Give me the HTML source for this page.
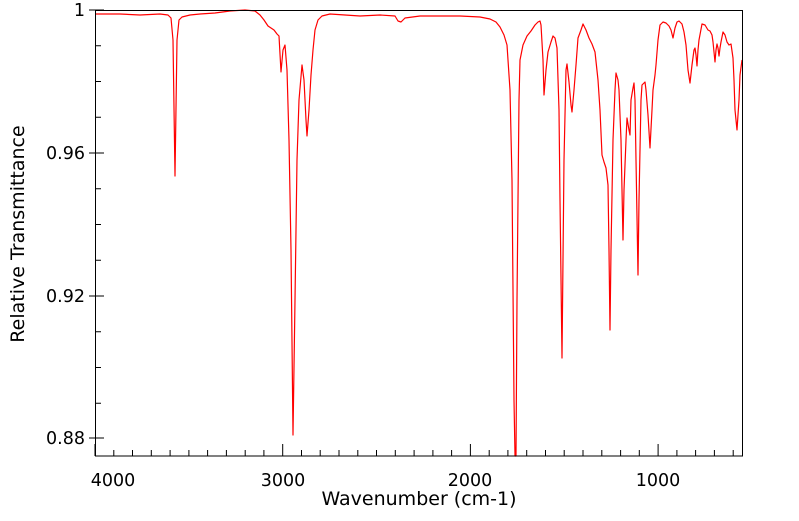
<!DOCTYPE html>
<html><head><meta charset="utf-8"><style>
body{margin:0;background:#fff;}
svg text{font-family:"DejaVu Sans","Liberation Sans",sans-serif;fill:#000;}
</style></head><body>
<svg width="799" height="516" viewBox="0 0 799 516" xmlns="http://www.w3.org/2000/svg">
<rect width="799" height="516" fill="#fff"/>
<g stroke="#000" stroke-width="1">
<path d="M95,444V456M282.7,444V456M470.4,444V456M658.1,444V456
M113.8,450V456M132.5,450V456M151.3,450V456M170.1,450V456M188.9,450V456M207.6,450V456M226.4,450V456M245.2,450V456M263.9,450V456
M301.5,450V456M320.2,450V456M339,450V456M357.8,450V456M376.5,450V456M395.3,450V456M414.1,450V456M432.9,450V456M451.6,450V456
M489.2,450V456M507.9,450V456M526.7,450V456M545.5,450V456M564.2,450V456M583,450V456M601.8,450V456M620.6,450V456M639.3,450V456
M676.9,450V456M695.6,450V456M714.4,450V456M733.2,450V456"/>
<path d="M89,10H104M89,153H104M89,296H104M89,438H104
M95,45.75H101M95,81.5H101M95,117.25H101M95,188.75H101M95,224.5H101M95,260.25H101M95,331.75H101M95,367.5H101M95,403.25H101"/>
</g>
<polyline fill="none" stroke="#ff0000" stroke-width="1.2" stroke-linejoin="round" points="
95,14 120,14 140,15 160,14 168,15 171,18 173,40 175,176 177,40 179,20 182,17 190,15 200,14 215,13 230,11 245,10 255,11 260,15 264,20 268,26 274,30 277,34 279,36 281,72 283,50 285,45 287,70 289,140 291,250 293,435 295,300 297,160 299,100 302,65 304,80 306,120 307,136 309,110 311,75 313,50 315,30 318,20 322,16 330,14 345,15 360,16 380,15 395,16 398,21 401,22 405,18 420,16 440,16 460,16 480,17 490,19 496,22 500,27 504,35 507,45 510,90 512,180 514,400 515,456 516,456 517,300 518,200 519,100 520,60 523,45 527,36 531,31 535,25 538,22 540,21 541,25 543,60 544,95 546,70 548,52 551,42 553,36 555,38 557,48 559,110 560,200 562,358 564,160 566,70 567,64 569,82 571,105 572,112 574,90 576,65 578,38 581,30 583,24 586,30 589,38 592,44 595,52 598,80 600,110 602,155 604,162 606,168 608,185 609,250 610,330 611,250 613,140 615,90 616,73 618,80 619,90 621,140 623,240 624,190 626,140 627,118 629,130 630,135 631,100 633,88 634,83 635,100 636,160 638,275 639,200 640,150 641,100 642,85 644,83 645,82 646,90 648,115 650,148 652,110 653,90 655,75 656,65 658,40 660,25 663,22 666,23 669,26 671,30 673,38 675,28 677,22 679,21 682,24 684,32 686,45 688,70 690,83 692,65 694,50 695,48 696,55 697,66 698,50 699,40 702,24 705,25 708,30 710,31 712,35 713,42 715,62 716,50 717,44 718,48 719,56 720,48 721,42 723,32 725,35 727,42 729,45 731,44 733,58 734,80 735,110 737,130 739,100 740,75 742,60"/>
<rect x="95.5" y="10.5" width="647" height="445.5" fill="none" stroke="#000" stroke-width="1"/>
<g font-size="17.5">
<text x="85" y="16" text-anchor="end">1</text>
<text x="85" y="159" text-anchor="end">0.96</text>
<text x="85" y="302" text-anchor="end">0.92</text>
<text x="85" y="444" text-anchor="end">0.88</text>
<text x="113" y="486" text-anchor="middle">4000</text>
<text x="283" y="486" text-anchor="middle">3000</text>
<text x="470" y="486" text-anchor="middle">2000</text>
<text x="658" y="486" text-anchor="middle">1000</text>
<text x="419" y="505" text-anchor="middle" font-size="19">Wavenumber (cm-1)</text>
<text transform="translate(24,234) rotate(-90)" text-anchor="middle" font-size="19">Relative Transmittance</text>
</g>
</svg>
</body></html>
